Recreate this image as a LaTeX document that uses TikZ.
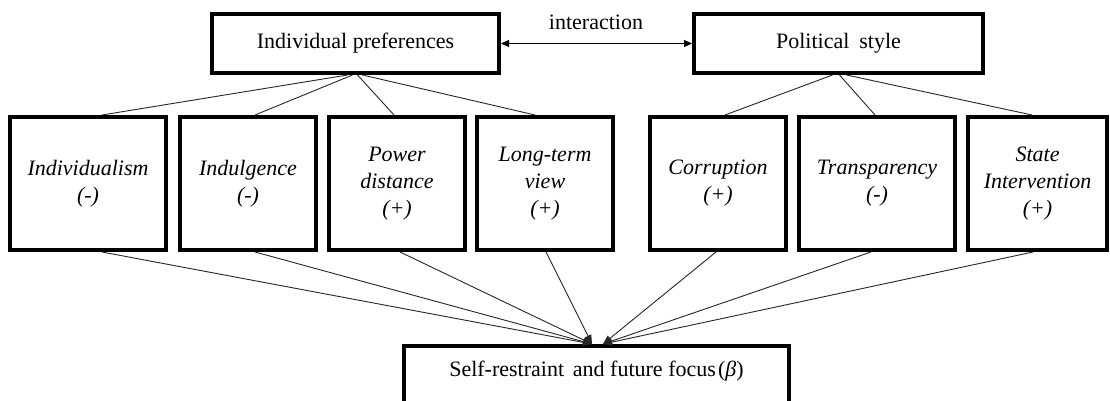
\documentclass[tikz,border=0pt]{standalone}
\usepackage{fontspec}
\setmainfont{Liberation Serif}
\usetikzlibrary{arrows.meta}
\tikzset{
  heavybox/.style={draw=black, line width=4pt, fill=white, inner sep=0pt,
    align=center, font=\fontsize{22}{27}\selectfont},
  factor/.style={heavybox, minimum height=133pt,
    font=\fontsize{22}{27}\selectfont\itshape},
  link/.style={draw=black!85, line width=0.9pt},
  feed/.style={link, -{Triangle[length=9pt,width=7pt]}},
  both/.style={draw=black, line width=0.9pt,
    {Triangle[length=8pt,width=7pt]}-{Triangle[length=8pt,width=7pt]}}
}
\begin{document}
\begin{tikzpicture}[x=1pt, y=-1pt]
  \useasboundingbox (0,0) rectangle (1110,401);
  \clip (0,0) rectangle (1110,401);

  % upper level
  \node[heavybox, minimum width=287pt, minimum height=59pt] (pref) at (355.5,43.5) {Individual preferences};
  \node[heavybox, minimum width=289pt, minimum height=59pt] (pol) at (838.5,43.5) {Political\hspace{0.45em}style};
  \node[font=\fontsize{22}{27}\selectfont] (inter) at (596,22) {interaction};
  \draw[both] (pref.east) -- (pol.west);

  % factors
  \node[factor, minimum width=156pt] (indiv) at (88,183.5) {Individualism\\(-)};
  \node[factor, minimum width=136pt] (indul) at (248,183.5) {Indulgence\\(-)};
  \node[factor, minimum width=136pt] (power) at (397,183.5) {Power\\distance\\(+)};
  \node[factor, minimum width=136pt] (longt) at (545,183.5) {Long-term\\view\\(+)};
  \node[factor, minimum width=136pt] (corr) at (718,183.5) {Corruption\\(+)};
  \node[factor, minimum width=156pt] (transp) at (877,183.5) {Transparency\\(-)};
  \node[factor, minimum width=139pt] (state) at (1037.5,183.5) {State\\Intervention\\(+)};

  % outcome
  \node[heavybox, minimum width=385pt, minimum height=90pt, anchor=north] (out) at (596.5,344) {};
  \node[font=\fontsize{22}{27}\selectfont] (outlabel) at ([yshift=-27pt]out.north)
    {Self-restraint\hspace{0.4em}and future focus\hspace{0.1em}(\textit{β})};
  \coordinate (tipL) at ([xshift=-4.5pt]out.north);
  \coordinate (tipR) at ([xshift=6.5pt]out.north);

  % links from the two groups
  \draw[link] ([xshift=-8pt]pref.south) -- ([xshift=14pt]indiv.north);
  \draw[link] ([xshift=-3pt]pref.south) -- ([xshift=7pt]indul.north);
  \draw[link] ([xshift=2pt]pref.south) -- ([xshift=-3pt]power.north);
  \draw[link] ([xshift=7pt]pref.south) -- ([xshift=-10pt]longt.north);
  \draw[link] ([xshift=-6pt]pol.south) -- ([xshift=7pt]corr.north);
  \draw[link] ([xshift=1pt]pol.south) -- ([xshift=-2pt]transp.north);
  \draw[link] ([xshift=8pt]pol.south) -- ([xshift=-5.5pt]state.north);

  % effects on the outcome
  \draw[feed] ([xshift=14pt]indiv.south) -- (tipL);
  \draw[feed] ([xshift=7pt]indul.south) -- (tipL);
  \draw[feed] ([xshift=3pt]power.south) -- (tipL);
  \draw[feed] ([xshift=1pt]longt.south) -- (tipL);
  \draw[feed] ([xshift=-2pt]corr.south) -- (tipR);
  \draw[feed] ([xshift=-6pt]transp.south) -- (tipR);
  \draw[feed] ([xshift=-4.5pt]state.south) -- (tipR);
\end{tikzpicture}
\end{document}
